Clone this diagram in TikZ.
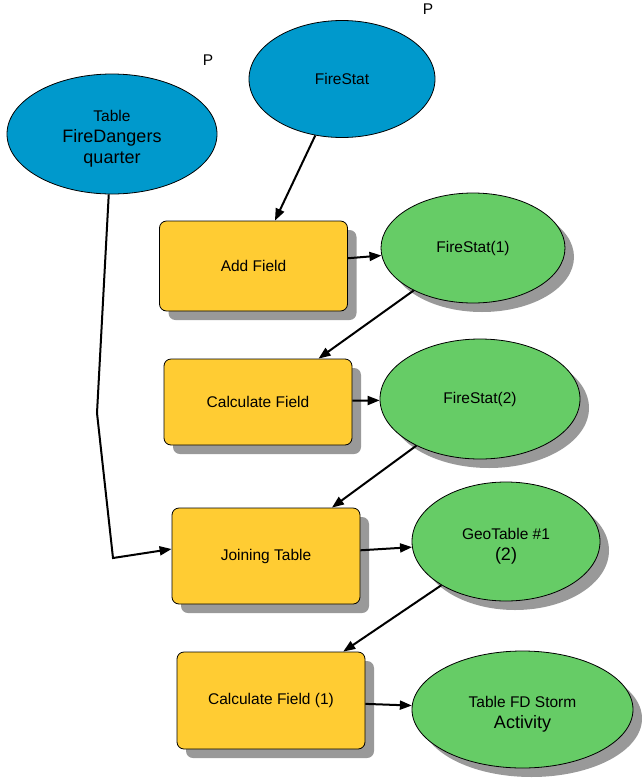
\documentclass[tikz,border=0pt]{standalone}
\usepackage{fontspec}
\setmainfont{Liberation Sans}
\usepackage{tikz}
\usetikzlibrary{shapes.geometric,arrows.meta,shadows}
\definecolor{cIn}{HTML}{0099CC}
\definecolor{cTool}{HTML}{FFCC33}
\definecolor{cOut}{HTML}{66CC66}
\newcommand{\bigtxt}{\fontsize{18}{21}\selectfont}
\tikzset{
  shd/.style    ={drop shadow={shadow xshift=9pt, shadow yshift=-9pt,
                  fill=black!40, opacity=1}},
  inp/.style    ={ellipse, draw=black, line width=0.8pt, fill=cIn, align=center,
                  font=\fontsize{15.5}{21}\selectfont, inner sep=0pt},
  tool/.style   ={rectangle, rounded corners=7pt, draw=black, line width=0.8pt,
                  fill=cTool, align=center, font=\fontsize{15.5}{21}\selectfont,
                  inner sep=0pt, minimum width=188pt, shd},
  outp/.style   ={ellipse, draw=black, line width=0.8pt, fill=cOut, align=center,
                  font=\fontsize{15.5}{21}\selectfont, inner sep=0pt, shd},
  fl/.style     ={-{Triangle[length=12pt,width=9pt]}, line width=2pt, draw=black},
  lbl/.style    ={font=\fontsize{15.5}{18}\selectfont, inner sep=0pt},
}
\begin{document}
\begin{tikzpicture}[x=1pt,y=-1pt]
  \useasboundingbox (0,0) rectangle (641,780);
  \node[inp,minimum width=210pt,minimum height=120pt] (tbl) at (112,134)
       {\rule{0pt}{20pt}Table\\{\bigtxt FireDangers}\\{\bigtxt quarter}};
  \node[inp,minimum width=186pt,minimum height=117pt] (fs) at (342,79) {FireStat};
  \node[lbl] (p1) at (208,60) {P};
  \node[lbl] (p2) at (428,9) {P};
  \node[tool,minimum height=90pt] (add) at (253.5,266) {Add Field};
  \node[outp,minimum width=184pt,minimum height=110pt] (fs1) at (473,248) {FireStat(1)};
  \node[tool,minimum height=86pt] (calc) at (258,402) {Calculate Field};
  \node[outp,minimum width=200pt,minimum height=120pt] (fs2) at (480,399) {FireStat(2)};
  \node[tool,minimum height=96pt] (join) at (266,556) {Joining Table};
  \node[outp,minimum width=188pt,minimum height=119pt] (geo) at (506,541.5)
       {\rule{0pt}{20pt}GeoTable \#1\\{\bigtxt (2)}};
  \node[tool,minimum height=97pt] (calc1) at (271,700.5) {Calculate Field (1)};
  \node[outp,minimum width=221pt,minimum height=117pt] (out) at (522.5,709.5)
       {\rule{0pt}{20pt}Table FD Storm\\{\bigtxt Activity}};
  \coordinate (b1) at (97,413);
  \coordinate (b2) at (113,558);
  \draw[fl](fs)--(add);\draw[fl](add)--(fs1);\draw[fl](fs1)--(calc);
  \draw[fl](calc)--(fs2);\draw[fl](fs2)--(join);\draw[fl](join)--(geo);
  \draw[fl](geo)--(calc1);\draw[fl](calc1)--(out);
  \draw[fl](tbl)--(b1)--(b2)--([yshift=7pt]join.west);
\end{tikzpicture}
\end{document}
